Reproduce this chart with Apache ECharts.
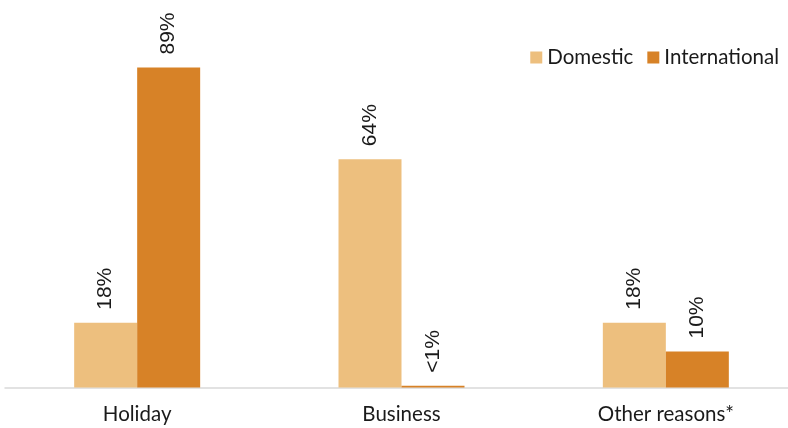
<!DOCTYPE html>
<html><head><meta charset="utf-8">
<script src="https://cdn.jsdelivr.net/npm/echarts@6/dist/echarts.min.js"></script>
<style>html,body{margin:0;padding:0;background:#fff}#c{width:788px;height:428px}</style>
</head><body><div id="c"></div>
<script>
const categories = ['Holiday', 'Business', 'Other reasons*'];
const seriesNames = ['Domestic', 'International'];
const domestic = [18, 63.5, 18];
const international = [89, 0.5, 10];
const labelsDomestic = ['18%', '64%', '18%'];
const labelsInternational = ['89%', '<1%', '10%'];
const colors = ['#EDBF7E', '#D78227'];

const chart = echarts.init(document.getElementById('c'), null, {renderer: 'canvas'});
function mkLabel(labels) {
  return {
    show: true, position: 'top', rotate: 90, align: 'left', verticalAlign: 'middle',
    distance: 13, fontFamily: 'Liberation Sans', fontSize: 21, color: '#1a1a1a',
    formatter: p => labels[p.dataIndex]
  };
}
chart.setOption({
  animation: false,
  textStyle: {fontFamily: 'Lato'},
  legend: {
    data: seriesNames, right: 4, top: 42, itemWidth: 12, itemHeight: 12, itemGap: 14,
    icon: 'rect', textStyle: {fontFamily: 'Lato', fontSize: 20.5, color: '#1a1a1a'}
  },
  grid: {left: 5, width: 793, top: 28, bottom: 40.5, containLabel: false, outerBoundsMode: 'none'},
  xAxis: {
    type: 'category', data: categories,
    axisLine: {lineStyle: {color: '#d9d9d9', width: 1.5}},
    axisTick: {show: false},
    axisLabel: {fontFamily: 'Lato', fontSize: 20.5, color: '#1a1a1a', margin: 16}
  },
  yAxis: {type: 'value', min: 0, max: 100, show: false, splitLine: {show: false}},
  series: [
    {name: seriesNames[0], type: 'bar', data: domestic, barWidth: 63, barGap: '0%',
     itemStyle: {color: colors[0]}, label: mkLabel(labelsDomestic)},
    {name: seriesNames[1], type: 'bar', data: international, barWidth: 63, barGap: '0%',
     itemStyle: {color: colors[1]}, label: mkLabel(labelsInternational)}
  ]
});
</script></body></html>
